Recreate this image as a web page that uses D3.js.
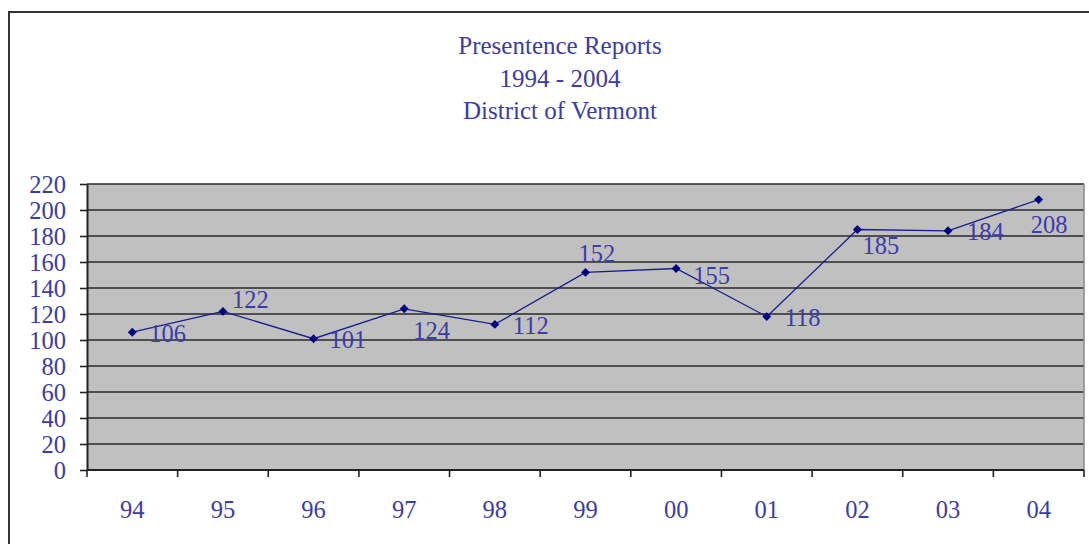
<!DOCTYPE html>
<html>
<head>
<meta charset="utf-8">
<script src="https://cdn.jsdelivr.net/npm/d3@7"></script>
<style>
  html, body { margin: 0; padding: 0; background: #fff; }
  svg { display: block; }
  text { font-family: "Liberation Serif", "Times New Roman", serif; fill: #3c3ca8; }
</style>
</head>
<body>
<svg id="chart" width="1089" height="544"></svg>
<script>
// ---- data ----
const categories = ["94", "95", "96", "97", "98", "99", "00", "01", "02", "03", "04"];
const reports = [106, 122, 101, 124, 112, 152, 155, 118, 185, 184, 208];
const yTicks = [0, 20, 40, 60, 80, 100, 120, 140, 160, 180, 200, 220];
const titleLines = ["Presentence Reports", "1994 - 2004", "District of Vermont"];

// label placement relative to each point (dx, dy of text start/baseline)
const labelOffsets = [
  [17, 10], [9, -3], [16, 9], [9, 30], [18, 10], [-7, -10],
  [17, 15], [18, 9], [5, 24], [19, 9], [-8, 33]
];

const svg = d3.select("#chart");
const plot = { left: 87, right: 1084, top: 184, bottom: 470 };
const fs = 24.5;

// outer border
svg.append("rect")
  .attr("x", 9).attr("y", 12)
  .attr("width", 1200).attr("height", 700)
  .attr("fill", "none").attr("stroke", "#333").attr("stroke-width", 2);

const x = d3.scaleBand().domain(categories).range([plot.left, plot.right]).padding(0);
const y = d3.scaleLinear().domain([0, 220]).range([plot.bottom, plot.top]);

// plot background
svg.append("rect")
  .attr("x", plot.left).attr("y", plot.top)
  .attr("width", plot.right - plot.left).attr("height", plot.bottom - plot.top)
  .attr("fill", "#c0c0c0");

// gridlines
svg.append("g").selectAll("line")
  .data(yTicks.filter(d => d > 0))
  .join("line")
  .attr("x1", plot.left).attr("x2", plot.right)
  .attr("y1", d => y(d)).attr("y2", d => y(d))
  .attr("stroke", "#2a2a2a").attr("stroke-width", 1.6);

// plot right border
svg.append("line")
  .attr("x1", plot.right).attr("x2", plot.right)
  .attr("y1", plot.top).attr("y2", plot.bottom)
  .attr("stroke", "#888").attr("stroke-width", 1.5);

// y axis
const yAxis = svg.append("g")
  .attr("transform", `translate(${plot.left},0)`)
  .call(d3.axisLeft(y).tickValues(yTicks).tickSize(7).tickPadding(14).tickSizeOuter(0));
yAxis.select(".domain").attr("stroke", "#222").attr("stroke-width", 2);
yAxis.selectAll(".tick line").attr("stroke", "#222").attr("stroke-width", 1.6);
yAxis.selectAll(".tick text")
  .attr("font-size", fs).attr("fill", "#3c3ca8")
  .style("font-family", "'Liberation Serif', serif")
  .attr("dy", "0.35em");

// x axis with ticks at band boundaries
const xAxisG = svg.append("g").attr("transform", `translate(0,${plot.bottom})`);
xAxisG.append("line")
  .attr("x1", plot.left).attr("x2", plot.right)
  .attr("stroke", "#222").attr("stroke-width", 2);
const boundaries = categories.map(c => x(c)).concat([x(categories[categories.length - 1]) + x.bandwidth()]);
xAxisG.selectAll("line.tk")
  .data(boundaries)
  .join("line").attr("class", "tk")
  .attr("x1", d => d).attr("x2", d => d)
  .attr("y1", 0).attr("y2", 7)
  .attr("stroke", "#222").attr("stroke-width", 1.6);
xAxisG.selectAll("text")
  .data(categories)
  .join("text")
  .attr("x", d => x(d) + x.bandwidth() / 2)
  .attr("y", 48)
  .attr("text-anchor", "middle")
  .attr("font-size", fs)
  .text(d => d);

// line
const pts = categories.map((c, i) => [x(c) + x.bandwidth() / 2, y(reports[i])]);
svg.append("path")
  .datum(pts)
  .attr("d", d3.line())
  .attr("fill", "none")
  .attr("stroke", "#1c1c8c")
  .attr("stroke-width", 1.3);

// markers (rotated squares)
svg.append("g").selectAll("path")
  .data(pts)
  .join("path")
  .attr("transform", d => `translate(${d[0]},${d[1]}) rotate(45)`)
  .attr("d", d3.symbol().type(d3.symbolSquare).size(40))
  .attr("fill", "#000080");

// data labels
svg.append("g").selectAll("text")
  .data(pts)
  .join("text")
  .attr("x", (d, i) => d[0] + labelOffsets[i][0])
  .attr("y", (d, i) => d[1] + labelOffsets[i][1])
  .attr("font-size", fs)
  .text((d, i) => reports[i]);

// title
svg.append("g").selectAll("text")
  .data(titleLines)
  .join("text")
  .attr("x", 560)
  .attr("y", (d, i) => 54 + i * 32.5)
  .attr("text-anchor", "middle")
  .attr("font-size", 25)
  .text(d => d);
</script>
</body>
</html>
